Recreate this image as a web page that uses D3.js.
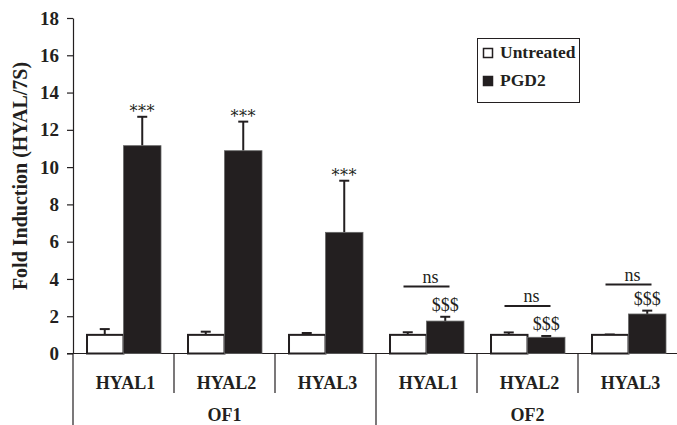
<!DOCTYPE html>
<html>
<head>
<meta charset="utf-8">
<script src="https://cdn.jsdelivr.net/npm/d3@7"></script>
<style>
  html, body { margin: 0; padding: 0; background: #fff; }
  svg { display: block; }
  text { font-family: "Liberation Serif", "Times New Roman", serif; fill: #231f20; }
</style>
</head>
<body>
<svg id="chart" width="677" height="425"></svg>
<script>
// ---- data ----
const groups = ["OF1", "OF2"];
const genes = ["HYAL1", "HYAL2", "HYAL3"];
const series = ["Untreated", "PGD2"];
const untreatedValues = [1.0, 1.0, 1.0, 1.0, 1.0, 1.0];
const untreatedErrors = [0.31, 0.17, 0.10, 0.14, 0.13, 0.02];
const pgd2Values = [11.15, 10.88, 6.50, 1.74, 0.87, 2.12];
const pgd2Errors = [1.55, 1.56, 2.77, 0.23, 0.07, 0.18];
const pgd2Marks = ["***", "***", "***", "$$$", "$$$", "$$$"];
const nsLevels = [null, null, null, 3.6, 2.55, 3.7];
const yTicks = [0, 2, 4, 6, 8, 10, 12, 14, 16, 18];
const yTitle = "Fold Induction (HYAL/7S)";

// ---- layout ----
const svg = d3.select("#chart");
const ink = "#231f20";
const x0 = 73, x1End = 679, yTop = 18, yZero = 353.5;

const cats = [];
groups.forEach(g => genes.forEach(h => cats.push(g + "-" + h)));
const rows = cats.map((c, i) => ({
  key: c, group: c.split("-")[0], gene: c.split("-")[1],
  vals: [untreatedValues[i], pgd2Values[i]],
  errs: [untreatedErrors[i], pgd2Errors[i]],
  mark: pgd2Marks[i], ns: nsLevels[i]
}));

const x = d3.scaleBand().domain(cats).range([x0, x1End]).padding(0);
const xg = d3.scaleBand().domain(groups).range([x0, x1End]).padding(0);
const xs = d3.scaleBand().domain(series).range([0, x.bandwidth()]).paddingInner(0).paddingOuter(0.347);
const y = d3.scaleLinear().domain([0, 18]).range([yZero, yTop]);

// y axis
const yAxis = svg.append("g")
  .attr("transform", `translate(${x0},0)`)
  .call(d3.axisLeft(y).tickValues(yTicks).tickSize(6).tickSizeOuter(0).tickPadding(8));
yAxis.attr("font-family", null);
yAxis.select(".domain").attr("stroke", ink).attr("stroke-width", 1.2);
yAxis.selectAll(".tick line").attr("stroke", ink).attr("stroke-width", 1.2);
yAxis.selectAll(".tick text")
  .style("font-family", "'Liberation Serif', serif")
  .style("font-weight", "bold").style("font-size", "19px").attr("fill", ink);

// y title
svg.append("text")
  .attr("transform", "rotate(-90)")
  .attr("x", -176).attr("y", 27)
  .attr("text-anchor", "middle")
  .style("font-weight", "bold").style("font-size", "20px")
  .text(yTitle);

// x baseline
svg.append("line")
  .attr("x1", x0 - 6).attr("x2", 677)
  .attr("y1", yZero).attr("y2", yZero)
  .attr("stroke", ink).attr("stroke-width", 1.2);

// separators: gene boundaries (short), group boundaries (long)
const geneBounds = cats.slice(1).map(c => x(c)).filter(v => !groups.some(g => Math.abs(xg(g) - v) < 0.5));
svg.selectAll("line.gsep").data(geneBounds).join("line")
  .attr("x1", d => d).attr("x2", d => d)
  .attr("y1", yZero).attr("y2", 393)
  .attr("stroke", ink).attr("stroke-width", 1.2);
svg.selectAll("line.grp").data(groups).join("line")
  .attr("x1", d => xg(d)).attr("x2", d => xg(d))
  .attr("y1", yZero).attr("y2", 425)
  .attr("stroke", ink).attr("stroke-width", 1.2);

// category labels
svg.selectAll("text.cat").data(rows).join("text")
  .attr("x", d => x(d.key) + x.bandwidth() / 2 + 2)
  .attr("y", 389)
  .attr("text-anchor", "middle")
  .style("font-weight", "bold").style("font-size", "18px")
  .text(d => d.gene);
svg.selectAll("text.grp").data(groups).join("text")
  .attr("x", d => xg(d) + xg.bandwidth() / 2)
  .attr("y", 421)
  .attr("text-anchor", "middle")
  .style("font-weight", "bold").style("font-size", "18px")
  .text(d => d);

// bars
const barG = svg.append("g");
rows.forEach(r => {
  series.forEach((s, si) => {
    const bx = x(r.key) + xs(s);
    const bw = xs.bandwidth();
    const v = r.vals[si], e = r.errs[si];
    const cx = bx + bw / 2;
    // error bar (upward only)
    barG.append("line")
      .attr("x1", cx).attr("x2", cx)
      .attr("y1", y(v)).attr("y2", y(v + e))
      .attr("stroke", ink).attr("stroke-width", 2);
    barG.append("line")
      .attr("x1", cx - 5).attr("x2", cx + 5)
      .attr("y1", y(v + e)).attr("y2", y(v + e))
      .attr("stroke", ink).attr("stroke-width", 2);
    if (si === 0) {
      barG.append("rect")
        .attr("x", bx + 1).attr("y", y(v))
        .attr("width", bw - 1).attr("height", y(0) - y(v))
        .attr("fill", "#fff").attr("stroke", ink).attr("stroke-width", 2);
    } else {
      barG.append("rect")
        .attr("x", bx).attr("y", y(v))
        .attr("width", bw).attr("height", y(0) - y(v))
        .attr("fill", ink).attr("stroke", "#666").attr("stroke-width", 0.8);
    }
  });
});

// significance marks
rows.forEach(r => {
  const bx = x(r.key) + xs("PGD2") + xs.bandwidth() / 2;
  const top = y(r.vals[1] + r.errs[1]);
  if (r.mark === "***") {
    svg.append("text").attr("x", bx).attr("y", top)
      .attr("text-anchor", "middle")
      .style("font-family", "'DejaVu Serif', serif").style("font-size", "16px")
      .style("letter-spacing", "0.5px").text(r.mark);
  } else {
    svg.append("text").attr("x", bx).attr("y", top - 6)
      .attr("text-anchor", "middle").style("font-size", "18px").text(r.mark);
  }
  if (r.ns !== null) {
    const gc = x(r.key) + x.bandwidth() / 2;
    svg.append("line")
      .attr("x1", gc - 23).attr("x2", gc + 23)
      .attr("y1", y(r.ns)).attr("y2", y(r.ns))
      .attr("stroke", ink).attr("stroke-width", 2);
    svg.append("text").attr("x", gc + 4).attr("y", y(r.ns) - 3.5)
      .attr("text-anchor", "middle").style("font-size", "18px").text("ns");
  }
});

// legend
const lg = svg.append("g");
lg.append("rect").attr("x", 477.5).attr("y", 38.5).attr("width", 102).attr("height", 64)
  .attr("fill", "#fff").attr("stroke", ink).attr("stroke-width", 1);
series.forEach((s, i) => {
  const yy = 48 + i * 28;
  lg.append("rect").attr("x", 483.5).attr("y", yy + 0.5).attr("width", 9).attr("height", 9)
    .attr("fill", i === 0 ? "#fff" : ink).attr("stroke", ink).attr("stroke-width", 1.5);
  lg.append("text").attr("x", 500).attr("y", yy + 10)
    .style("font-weight", "bold").style("font-size", "17.5px").text(s);
});
</script>
</body>
</html>
